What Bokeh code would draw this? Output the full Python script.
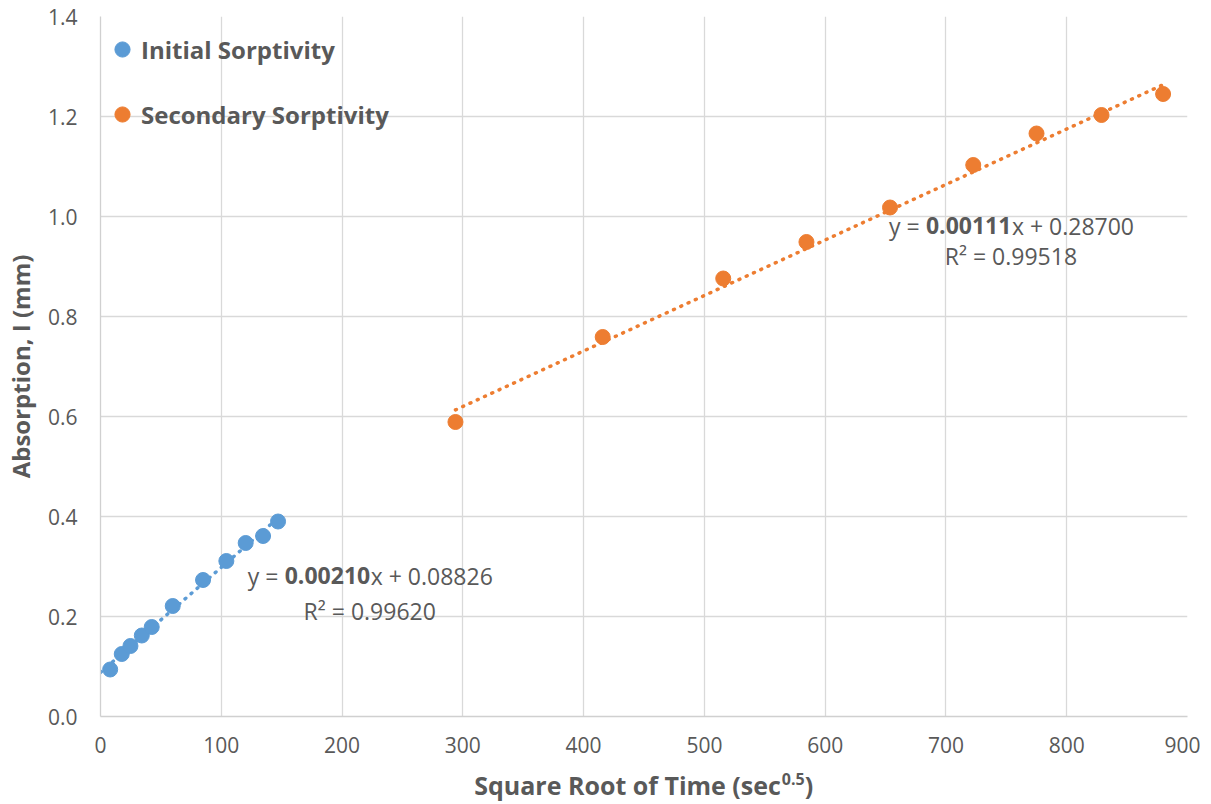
from bokeh.plotting import figure
from bokeh.layouts import column
from bokeh.models import (Range1d, FixedTicker, PrintfTickFormatter,
                          Legend, LegendItem)
from bokeh.embed import file_html
from bokeh.resources import INLINE
from bokeh.core.properties import value

# ---------------- data ----------------
series_names = ["Initial Sorptivity", "Secondary Sorptivity"]
initial_x = [8.0, 17.6, 24.8, 34.2, 42.4, 59.8, 84.9, 104.2, 120.2, 134.6, 147.0]
initial_y = [0.094, 0.125, 0.141, 0.162, 0.179, 0.221, 0.273, 0.311, 0.347, 0.361, 0.390]
secondary_x = [293.9, 415.8, 515.6, 584.5, 653.7, 722.6, 775.0, 828.8, 879.8]
secondary_y = [0.589, 0.759, 0.876, 0.949, 1.018, 1.103, 1.166, 1.203, 1.245]
slopes = [0.00210, 0.00111]
intercepts = [0.08826, 0.28700]
r_squared = [0.99620, 0.99518]
trend_start = [0.0, min(secondary_x)]   # initial trendline is forecast back to 0
x_ticks = [0, 100, 200, 300, 400, 500, 600, 700, 800, 900]
y_ticks = [0.0, 0.2, 0.4, 0.6, 0.8, 1.0, 1.2, 1.4]
x_title = ["Square Root of Time (sec", "0.5", ")"]
y_title = "Absorption, I (mm)"

# ---------------- styles ----------------
COLORS = ["#5B9BD5", "#ED7D31"]
TEXT = "#595959"
GRID = "#D9D9D9"
FONT = "Open Sans"
W = 1200
BORDER_L = 99
BORDER_R = 13

p = figure(width=W, height=766, output_backend="svg", toolbar_location=None,
           x_range=Range1d(0, 900), y_range=Range1d(0, 1.4),
           min_border_left=BORDER_L, min_border_right=BORDER_R, min_border_top=16,
           min_border_bottom=50, background_fill_color="white",
           border_fill_color="white")
p.outline_line_color = None

for ax in (p.xaxis[0], p.yaxis[0]):
    ax.axis_line_color = "#D0D0D0"
    ax.axis_line_width = 1.3
    ax.major_tick_line_color = None
    ax.minor_tick_line_color = None
    ax.major_tick_in = 0
    ax.major_tick_out = 0
    ax.major_label_text_font = FONT
    ax.major_label_text_font_size = "21px"
    ax.major_label_text_color = TEXT

p.xaxis.ticker = FixedTicker(ticks=x_ticks)
p.yaxis.ticker = FixedTicker(ticks=y_ticks)
p.yaxis.formatter = PrintfTickFormatter(format="%.1f")
p.xaxis.major_label_standoff = 20
p.yaxis.major_label_standoff = 23

p.yaxis.axis_label = y_title
p.yaxis.axis_label_text_font = FONT
p.yaxis.axis_label_text_font_style = "bold"
p.yaxis.axis_label_text_font_size = "24px"
p.yaxis.axis_label_text_color = TEXT
p.yaxis.axis_label_standoff = 8

p.xgrid.grid_line_color = GRID
p.ygrid.grid_line_color = GRID
p.xgrid.grid_line_width = 1.3
p.ygrid.grid_line_width = 1.3

xs_all = [initial_x, secondary_x]
ys_all = [initial_y, secondary_y]
items = []
for i in range(2):
    tx = [trend_start[i], max(xs_all[i])]
    ty = [slopes[i] * v + intercepts[i] for v in tx]
    p.line(tx, ty, line_color=COLORS[i], line_width=3.5, line_dash="1 7",
           line_cap="round")
for i in range(2):
    r = p.scatter(xs_all[i], ys_all[i], size=15, fill_color=COLORS[i],
                  line_color=COLORS[i])
    items.append(LegendItem(label=series_names[i], renderers=[r]))

legend = Legend(items=items, location=(3, 583), orientation="vertical",
                glyph_width=38, glyph_height=38, spacing=27, padding=0,
                margin=0, label_standoff=-6, border_line_color=None,
                background_fill_alpha=0,
                label_text_font=FONT, label_text_font_size="24px",
                label_text_font_style="bold", label_text_color=TEXT)
p.add_layout(legend)

# ---------------- trendline equations ----------------
eq_center_x = [222.9, 753.8]
eq_line1_y = [0.2814, 0.9814]
eq_line2_y = [0.2114, 0.9214]
for i in range(2):
    common = dict(text_font=value(FONT), text_font_size="23px",
                  text_color=TEXT, text_baseline="alphabetic", text_align="left")
    p.text(x=[eq_center_x[i]], y=[eq_line1_y[i]], text=["y = "],
           x_offset=-122, **common)
    p.text(x=[eq_center_x[i]], y=[eq_line1_y[i]], text=[f"{slopes[i]:.5f}"],
           x_offset=-85, text_font_style="bold", **common)
    p.text(x=[eq_center_x[i]], y=[eq_line1_y[i]], text=[f"x + {intercepts[i]:.5f}"],
           x_offset=1, **common)
    common["text_align"] = "center"
    p.text(x=[eq_center_x[i]], y=[eq_line2_y[i]], text=[f"R\u00b2 = {r_squared[i]:.5f}"],
           **common)

# ---------------- x axis title (with superscript) in a strip below ----------------
t = figure(width=W, height=36, output_backend="svg", toolbar_location=None,
           x_range=p.x_range, y_range=Range1d(0, 36),
           x_axis_location=None, y_axis_location=None,
           min_border_left=BORDER_L, min_border_right=BORDER_R,
           min_border_top=0, min_border_bottom=0,
           background_fill_color="white", border_fill_color="white")
t.outline_line_color = None
t.grid.visible = False
tcommon = dict(text_font=value(FONT), text_font_style="bold", text_color=TEXT,
               text_baseline="alphabetic")
title_x = 563.3
t.text(x=[title_x], y=[18], text=[x_title[0]], text_align="right",
       text_font_size="25px", **tcommon)
t.text(x=[title_x], y=[24], text=[x_title[1]], text_align="left",
       text_font_size="16px", x_offset=1, **tcommon)
t.text(x=[title_x], y=[18], text=[x_title[2]], text_align="left",
       text_font_size="25px", x_offset=24, **tcommon)

layout = column(p, t, spacing=0)
open("out.html", "w").write(file_html(layout, INLINE))
